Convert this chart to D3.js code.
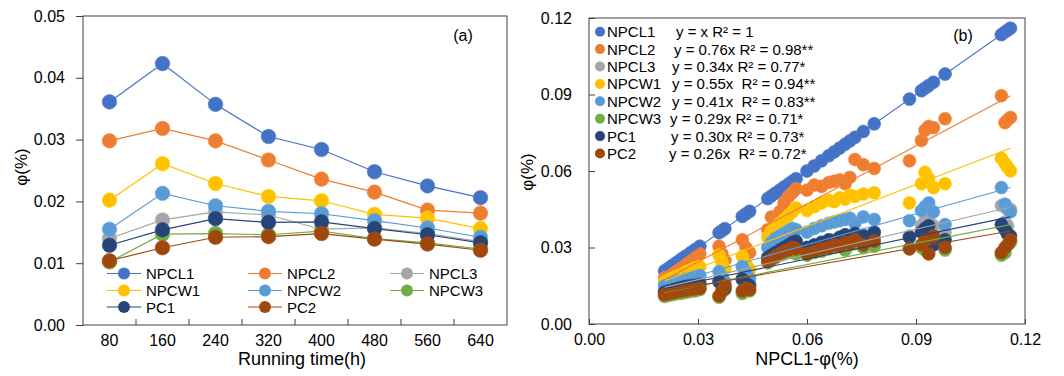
<!DOCTYPE html>
<html><head><meta charset="utf-8">
<script src="https://cdn.jsdelivr.net/npm/d3@7"></script>
<style>
body{margin:0;background:#fff}
svg{display:block}
text{font-family:"Liberation Sans",Arial,sans-serif;fill:#000;white-space:pre}
</style>
</head><body>
<svg id="c" width="1064" height="376"></svg>
<script>
// ---------- DATA ----------
const seriesNames = ["NPCL1","NPCL2","NPCL3","NPCW1","NPCW2","NPCW3","PC1","PC2"];
const seriesColors = ["#4472C4","#ED7D31","#A5A5A5","#FFC000","#5B9BD5","#70AD47","#264478","#9E480E"];
const runTimes = [80,160,240,320,400,480,560,640];
const yTicksA = [0,0.01,0.02,0.03,0.04,0.05];
const ticksB = [0,0.03,0.06,0.09,0.12];

// (a) phi vs running time
const runNPCL1 = [0.0361,0.0423,0.0357,0.0305,0.0284,0.0248,0.0225,0.0206];
const runNPCL2 = [0.0298,0.0318,0.0298,0.0267,0.0236,0.0215,0.0186,0.0181];
const runNPCL3 = [0.0140,0.0170,0.0183,0.0178,0.0155,0.0157,0.0148,0.0135];
const runNPCW1 = [0.0202,0.0261,0.0229,0.0208,0.0201,0.0179,0.0173,0.0156];
const runNPCW2 = [0.0155,0.0213,0.0193,0.0184,0.0180,0.0169,0.0157,0.0142];
const runNPCW3 = [0.0102,0.0147,0.0148,0.0146,0.0152,0.0140,0.0133,0.0123];
const runPC1   = [0.0129,0.0154,0.0172,0.0166,0.0167,0.0156,0.0146,0.0133];
const runPC2   = [0.0104,0.0125,0.0142,0.0143,0.0148,0.0139,0.0131,0.0121];

// (b) phi of each series vs NPCL1 phi
const corrX = [0.0208,0.0218,0.0228,0.0238,0.0248,0.0258,0.0268,0.0280,0.0292,0.0305,
  0.0358,0.0366,0.0374, 0.0422,0.0432,0.0442,
  0.0492,0.0502,0.0513,0.0525,0.0537,0.0549,0.0560,0.0570,
  0.0600,0.0620,0.0640,0.0660,0.0675,0.0690,0.0705,0.0718,0.0732,0.0755,0.0785,
  0.0882,0.0915,0.0925,0.0935,0.0948,0.0980, 0.1135,0.1145,0.1152,0.1160];
const corrNPCL1 = corrX.slice();
const corrNPCL2 = [0.0180,0.0188,0.0195,0.0205,0.0215,0.0222,0.0235,0.0250,0.0262,0.0275,
  0.0305,0.0275,0.0250, 0.0330,0.0300,0.0280,
  0.0370,0.0420,0.0395,0.0440,0.0475,0.0500,0.0515,0.0530,
  0.0525,0.0545,0.0540,0.0555,0.0560,0.0565,0.0550,0.0575,0.0645,0.0625,0.0610,
  0.0640,0.0720,0.0760,0.0775,0.0770,0.0805, 0.0895,0.0790,0.0800,0.0810];
const corrNPCL3 = [0.0135,0.0140,0.0145,0.0150,0.0152,0.0155,0.0158,0.0162,0.0165,0.0170,
  0.0170,0.0160,0.0150, 0.0180,0.0170,0.0160,
  0.0260,0.0275,0.0285,0.0290,0.0295,0.0300,0.0305,0.0310,
  0.0300,0.0310,0.0320,0.0325,0.0330,0.0335,0.0340,0.0345,0.0330,0.0350,0.0340,
  0.0345,0.0385,0.0405,0.0420,0.0385,0.0360, 0.0465,0.0400,0.0385,0.0450];
const corrNPCW1 = [0.0165,0.0172,0.0178,0.0185,0.0190,0.0198,0.0205,0.0212,0.0220,0.0225,
  0.0270,0.0240,0.0215, 0.0265,0.0235,0.0215,
  0.0340,0.0365,0.0380,0.0395,0.0410,0.0425,0.0440,0.0455,
  0.0445,0.0460,0.0475,0.0485,0.0480,0.0495,0.0490,0.0505,0.0500,0.0510,0.0515,
  0.0475,0.0550,0.0595,0.0570,0.0535,0.0550, 0.0650,0.0630,0.0615,0.0600];
const corrNPCW2 = [0.0150,0.0155,0.0160,0.0165,0.0170,0.0172,0.0178,0.0182,0.0186,0.0190,
  0.0205,0.0185,0.0165, 0.0225,0.0200,0.0180,
  0.0300,0.0320,0.0335,0.0345,0.0355,0.0365,0.0375,0.0370,
  0.0360,0.0375,0.0385,0.0395,0.0400,0.0405,0.0410,0.0415,0.0395,0.0420,0.0410,
  0.0405,0.0445,0.0460,0.0475,0.0440,0.0390, 0.0535,0.0470,0.0450,0.0440];
const corrNPCW3 = [0.0108,0.0112,0.0115,0.0118,0.0120,0.0122,0.0125,0.0128,0.0130,0.0135,
  0.0105,0.0125,0.0135, 0.0120,0.0135,0.0130,
  0.0240,0.0250,0.0260,0.0270,0.0275,0.0280,0.0285,0.0275,
  0.0270,0.0280,0.0285,0.0295,0.0300,0.0305,0.0290,0.0310,0.0315,0.0300,0.0305,
  0.0295,0.0300,0.0290,0.0315,0.0330,0.0290, 0.0270,0.0280,0.0350,0.0320];
const corrPC1 = [0.0125,0.0130,0.0135,0.0138,0.0142,0.0145,0.0148,0.0150,0.0152,0.0155,
  0.0165,0.0150,0.0140, 0.0175,0.0160,0.0150,
  0.0260,0.0270,0.0280,0.0290,0.0300,0.0310,0.0320,0.0325,
  0.0300,0.0310,0.0320,0.0330,0.0320,0.0340,0.0350,0.0335,0.0355,0.0345,0.0360,
  0.0340,0.0360,0.0375,0.0385,0.0310,0.0330, 0.0390,0.0370,0.0355,0.0345];
const corrPC2 = [0.0115,0.0118,0.0122,0.0125,0.0128,0.0130,0.0132,0.0135,0.0138,0.0140,
  0.0110,0.0130,0.0150, 0.0130,0.0140,0.0135,
  0.0245,0.0255,0.0265,0.0275,0.0285,0.0290,0.0300,0.0295,
  0.0275,0.0285,0.0295,0.0300,0.0310,0.0305,0.0320,0.0315,0.0330,0.0310,0.0325,
  0.0295,0.0310,0.0330,0.0275,0.0345,0.0300, 0.0280,0.0300,0.0310,0.0330];

// trendline parameters
const fitSlope     = [1, 0.758, 0.33, 0.547, 0.40, 0.28, 0.295, 0.25];
const fitIntercept = [0, 0.0016, 0.0075, 0.0055, 0.0071, 0.0065, 0.0078, 0.0075];
const fitLabels = ["y = x R² = 1","y = 0.76x R² = 0.98**","y = 0.34x R² = 0.77*","y = 0.55x  R² = 0.94**",
  "y = 0.41x  R² = 0.83**","y = 0.29x R² = 0.71*","y = 0.30x R² = 0.73*","y = 0.26x  R² = 0.72*"];

const runSeries = [runNPCL1,runNPCL2,runNPCL3,runNPCW1,runNPCW2,runNPCW3,runPC1,runPC2];
const corrSeries = [corrNPCL1,corrNPCL2,corrNPCL3,corrNPCW1,corrNPCW2,corrNPCW3,corrPC1,corrPC2];

// ---------- DRAW ----------
const svg = d3.select("#c");
const frameColor = "#404040";

// ===== chart (a) =====
const A = {l:83, r:507, t:16, b:325};
const xa = d3.scaleBand().domain(runTimes).range([A.l, A.r]);
const ya = d3.scaleLinear().domain([0,0.05]).range([A.b, A.t]);
const ga = svg.append("g");

ga.append("rect").attr("x",A.l).attr("y",A.t).attr("width",A.r-A.l).attr("height",A.b-A.t)
  .attr("fill","none").attr("stroke",frameColor).attr("stroke-width",1);

const yaxA = ga.append("g").attr("transform",`translate(${A.l},0)`)
  .call(d3.axisLeft(ya).tickValues(yTicksA).tickFormat(d3.format(".2f")).tickSize(7).tickPadding(11));
yaxA.select(".domain").remove();
yaxA.selectAll("line").attr("stroke",frameColor);
yaxA.selectAll("text").attr("font-size",16).attr("fill","#000");

const xaxA = ga.append("g").attr("transform",`translate(0,${A.b})`)
  .call(d3.axisBottom(xa).tickSize(0).tickPadding(10));
xaxA.select(".domain").remove();
xaxA.selectAll("text").attr("font-size",16).attr("fill","#000");
// boundary ticks (inward)
ga.selectAll("line.bt").data(runTimes.slice(1)).enter().append("line")
  .attr("x1",d=>xa(d)).attr("x2",d=>xa(d)).attr("y1",A.b).attr("y2",A.b-6)
  .attr("stroke",frameColor);

ga.append("text").attr("x",302).attr("y",365).attr("text-anchor","middle")
  .attr("font-size",18).text("Running time(h)");
ga.append("text").attr("transform",`translate(27,167) rotate(-90)`).attr("text-anchor","middle")
  .attr("font-size",17).text("φ(%)");
ga.append("text").attr("x",463).attr("y",41).attr("text-anchor","middle").attr("font-size",16).text("(a)");

const xc = d => xa(d) + xa.bandwidth()/2;
const lineA = d3.line().x((d,i)=>xc(runTimes[i])).y(d=>ya(d));
runSeries.forEach((s,k)=>{
  ga.append("path").datum(s).attr("d",lineA).attr("fill","none")
    .attr("stroke",seriesColors[k]).attr("stroke-width",1.2);
});
runSeries.forEach((s,k)=>{
  ga.selectAll(null).data(s).enter().append("circle")
    .attr("cx",(d,i)=>xc(runTimes[i])).attr("cy",d=>ya(d)).attr("r",7.3)
    .attr("fill",seriesColors[k]).attr("stroke",d3.color(seriesColors[k]).brighter(0.3)).attr("stroke-width",0.6);
});

// legend (a)
const legColX = [107,248,390], legRowY = [273.5,290.5,307];
seriesNames.forEach((n,k)=>{
  const col = k%3, row = Math.floor(k/3);
  const x0 = legColX[col], y0 = legRowY[row];
  ga.append("line").attr("x1",x0).attr("x2",x0+34).attr("y1",y0).attr("y2",y0)
    .attr("stroke",seriesColors[k]).attr("stroke-width",1.2);
  ga.append("circle").attr("cx",x0+17).attr("cy",y0).attr("r",6).attr("fill",seriesColors[k]);
  ga.append("text").attr("x",x0+39).attr("y",y0+5.5).attr("font-size",15).text(n);
});

// ===== chart (b) =====
const B = {l:589, r:1025, t:18, b:324};
const xb = d3.scaleLinear().domain([0,0.12]).range([B.l, B.r]);
const yb = d3.scaleLinear().domain([0,0.12]).range([B.b, B.t]);
const gb = svg.append("g");

const yaxB = gb.append("g").attr("transform",`translate(${B.l},0)`)
  .call(d3.axisLeft(yb).tickValues(ticksB).tickFormat(d3.format(".2f")).tickSize(-6).tickPadding(17));
yaxB.select(".domain").remove();
yaxB.selectAll("line").attr("stroke",frameColor);
yaxB.selectAll("text").attr("font-size",16).attr("fill","#000");

const xaxB = gb.append("g").attr("transform",`translate(0,${B.b})`)
  .call(d3.axisBottom(xb).tickValues(ticksB).tickFormat(d3.format(".2f")).tickSize(-5).tickPadding(10));
xaxB.select(".domain").remove();
xaxB.selectAll("line").attr("stroke",frameColor);
xaxB.selectAll("text").attr("font-size",16).attr("fill","#000");

gb.append("rect").attr("x",B.l).attr("y",B.t).attr("width",B.r-B.l).attr("height",B.b-B.t)
  .attr("fill","none").attr("stroke",frameColor).attr("stroke-width",1);

gb.append("text").attr("x",(B.l+B.r)/2).attr("y",365).attr("text-anchor","middle")
  .attr("font-size",18).text("NPCL1-φ(%)");
gb.append("text").attr("transform",`translate(533,172) rotate(-90)`).attr("text-anchor","middle")
  .attr("font-size",17).text("φ(%)");
gb.append("text").attr("x",963).attr("y",41).attr("text-anchor","middle").attr("font-size",16).text("(b)");

corrSeries.forEach((s,k)=>{
  gb.selectAll(null).data(s).enter().append("circle")
    .attr("cx",(d,i)=>xb(corrX[i])).attr("cy",d=>yb(d)).attr("r",6.5)
    .attr("fill",seriesColors[k]).attr("stroke",d3.color(seriesColors[k]).brighter(0.3)).attr("stroke-width",0.6);
});
const xExt = d3.extent(corrX);
corrSeries.forEach((s,k)=>{
  const f = x => fitSlope[k]*x + fitIntercept[k];
  gb.append("line").attr("x1",xb(xExt[0])).attr("x2",xb(xExt[1]))
    .attr("y1",yb(f(xExt[0]))).attr("y2",yb(f(xExt[1])))
    .attr("stroke",seriesColors[k]).attr("stroke-width",1.1);
});

// legend (b)
const eqX = [676,674,672,672,672,670,671,669];
seriesNames.forEach((n,k)=>{
  const y0 = 31.7 + k*17.4;
  gb.append("circle").attr("cx",600).attr("cy",y0).attr("r",5).attr("fill",seriesColors[k]);
  gb.append("text").attr("x",607).attr("y",y0+5.5).attr("font-size",15).text(n);
  gb.append("text").attr("x",eqX[k]).attr("y",y0+5.5).attr("font-size",15).text(fitLabels[k]);
});
</script>
</body></html>
